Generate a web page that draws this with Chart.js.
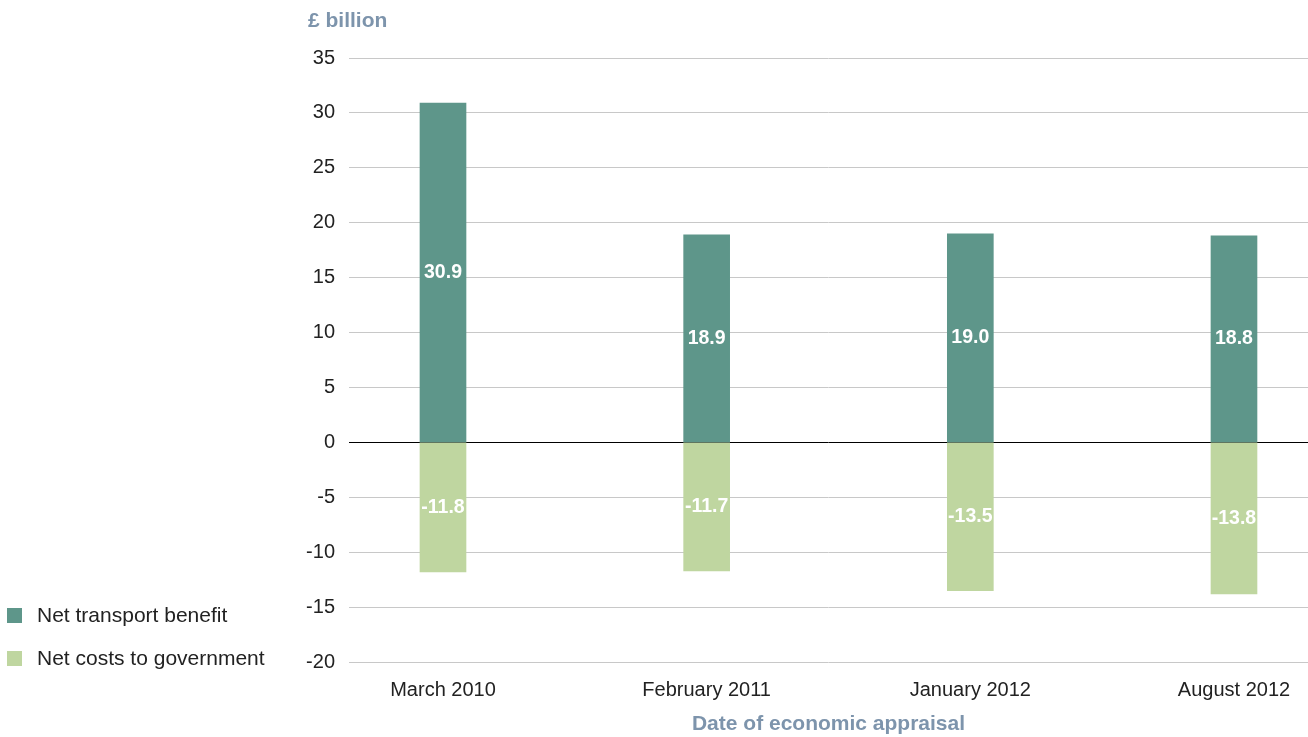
<!DOCTYPE html>
<html lang="en">
  <head>
    <meta charset="UTF-8" />
    <title>Economic appraisal</title>
    <script src="https://cdn.jsdelivr.net/npm/chart.js"></script>
    <style>
      body {
        margin: 0;
        background: #fff;
        font-family: "Liberation Sans", Arial, sans-serif;
      }
      .wrap {
        position: relative;
        width: 1308px;
        height: 737px;
      }
      .unit {
        position: absolute;
        left: 308px;
        top: 8px;
        font-size: 21px;
        font-weight: bold;
        color: #7d94ac;
      }
      .legend {
        position: absolute;
        left: 7px;
        top: 603px;
        font-size: 21px;
        color: #222;
      }
      .legend div {
        display: flex;
        align-items: center;
        height: 24px;
        margin-bottom: 19px;
      }
      .legend span {
        display: inline-block;
        width: 15px;
        height: 15px;
        margin-right: 15px;
      }
    </style>
  </head>
  <body>
    <div class="wrap">
      <canvas id="chart"></canvas>
      <div class="unit">£ billion</div>
      <div class="legend">
        <div><span style="background: #5e968a"></span>Net transport benefit</div>
        <div><span style="background: #bfd6a0"></span>Net costs to government</div>
      </div>
    </div>

    <script>
      const categories = ["March 2010", "February 2011", "January 2012", "August 2012"];
      const transportBenefit = [30.9, 18.9, 19.0, 18.8];
      const governmentCosts = [-11.8, -11.7, -13.5, -13.8];
      const yTicks = [35, 30, 25, 20, 15, 10, 5, 0, -5, -10, -15, -20];

      const toPoints = (arr) => arr.map((v, i) => ({ x: i, y: v }));
      const FONT = "'Liberation Sans', Arial, sans-serif";

      // value written in the middle of every bar
      const barLabels = {
        id: "barLabels",
        afterDatasetsDraw(chart) {
          const ctx = chart.ctx;
          ctx.save();
          ctx.fillStyle = "#fff";
          ctx.textAlign = "center";
          ctx.textBaseline = "middle";
          ctx.font = "bold 19.5px " + FONT;
          chart.data.datasets.forEach((ds, di) => {
            chart.getDatasetMeta(di).data.forEach((bar, i) => {
              const { x, y, base } = bar.getProps(["x", "y", "base"], true);
              ctx.fillText(ds.data[i].y.toFixed(1), x, (y + base) / 2);
            });
          });
          ctx.restore();
        },
      };

      new Chart(document.getElementById("chart"), {
        type: "bar",
        data: {
          datasets: [
            {
              label: "Net transport benefit",
              data: toPoints(transportBenefit),
              backgroundColor: "#5e968a",
            },
            {
              label: "Net costs to government",
              data: toPoints(governmentCosts),
              backgroundColor: "#bfd6a0",
            },
          ],
        },
        options: {
          responsive: true,
          maintainAspectRatio: false,
          animation: false,
          layout: { padding: { top: 58, left: 0, right: 0, bottom: 0 } },
          datasets: { bar: { barThickness: 46, grouped: false } },
          plugins: { legend: { display: false }, tooltip: { enabled: false } },
          scales: {
            x: {
              type: "linear",
              offset: false,
              min: -0.3565,
              max: 3.2807,
              grid: { display: false },
              border: { display: false },
              afterBuildTicks: (scale) => {
                scale.ticks = categories.map((c, i) => ({ value: i }));
              },
              afterFit: (scale) => {
                scale.height = 75;
              },
              ticks: {
                padding: 8,
                color: "#222",
                font: { size: 20, family: FONT },
                callback: (v) => categories[v],
              },
              title: {
                display: true,
                text: "Date of economic appraisal",
                color: "#7d94ac",
                font: { size: 21, weight: "bold", family: FONT },
                padding: 0,
              },
            },
            y: {
              min: -20,
              max: 35,
              afterBuildTicks: (scale) => {
                scale.ticks = yTicks.map((v) => ({ value: v }));
              },
              afterFit: (scale) => {
                scale.width = 349;
              },
              border: { display: false },
              grid: {
                drawTicks: false,
                color: (c) => (c.tick && c.tick.value === 0 ? "#000" : "#c8c8c8"),
              },
              ticks: {
                padding: 14,
                color: "#222",
                font: { size: 20, family: FONT },
              },
            },
          },
        },
        plugins: [barLabels],
      });
    </script>
  </body>
</html>
